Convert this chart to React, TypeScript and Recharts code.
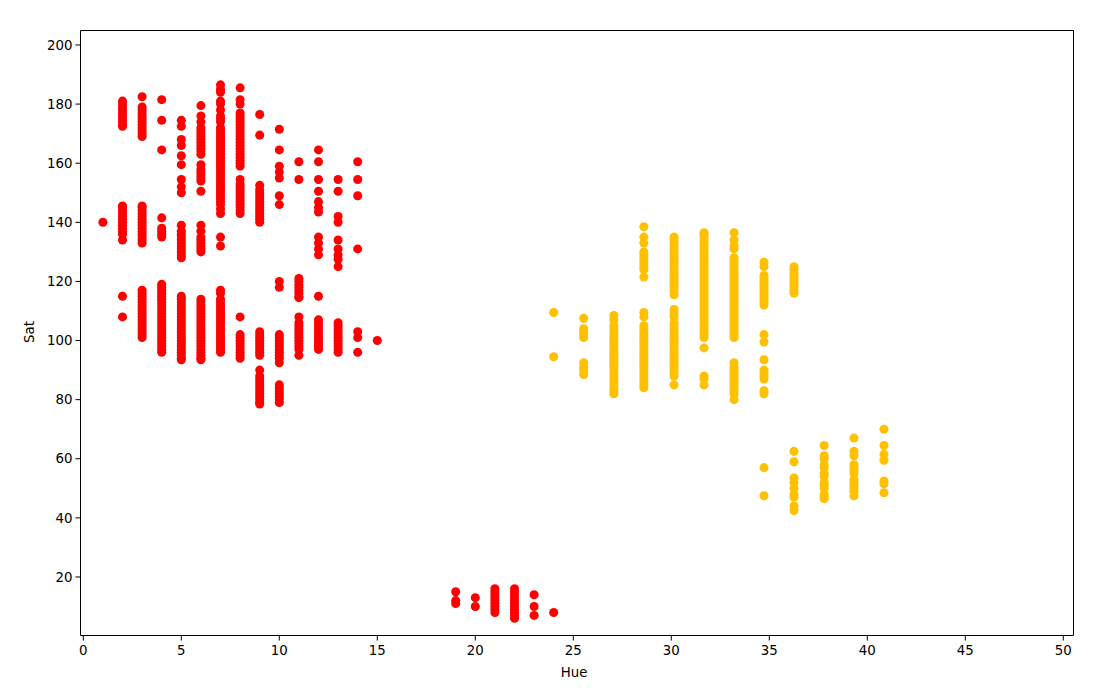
import React from 'react';
import { ScatterChart, Scatter, XAxis, YAxis, ZAxis, ReferenceLine } from 'recharts';

const redColumns: [number, number[]][] = [
  [1, [140]],
  [2, [181, 180, 179, 178, 177, 176, 175, 174, 173, 172.5, 145.5, 145, 144, 143, 142, 141, 140, 139, 138, 137, 136, 134, 115, 108]],
  [3, [182.5, 179, 178, 177, 176, 175, 174, 173, 172, 171, 170, 169, 145.5, 145, 144, 143, 142, 141, 140, 139, 138, 137, 136, 135, 134, 133, 117, 116, 115, 114, 113, 112, 111, 110, 109, 108, 107, 106, 105, 104, 103, 102, 101]],
  [4, [181.5, 174.5, 164.5, 141.5, 138, 137, 136, 135, 119, 118, 117, 116, 115, 114, 113, 112, 111, 110, 109, 108, 107, 106, 105, 104, 103, 102, 101, 100, 99, 98, 97, 96]],
  [5, [174.5, 172.5, 168, 166, 162.5, 159.5, 154.5, 152, 150, 139, 137, 136, 135, 134, 133, 132, 131, 130, 129, 128, 115, 114, 113, 112, 111, 110, 109, 108, 107, 106, 105, 104, 103, 102, 101, 100, 99, 98, 97, 96, 95, 94, 93.5]],
  [6, [179.5, 176, 174, 172, 171, 170, 169, 168, 167, 166, 165, 164, 163, 159.5, 158, 157, 156, 155, 154, 150.5, 139, 137, 135, 134, 133, 132, 131, 130, 114, 113, 112, 111, 110, 109, 108, 107, 106, 105, 104, 103, 102, 101, 100, 99, 98, 97, 96, 95, 94, 93.5]],
  [7, [186.5, 185, 184, 181, 180, 178, 176, 175, 174, 172, 171, 170, 169, 168, 167, 166, 165, 164, 163, 162, 161, 160, 159, 158, 157, 156, 155, 154, 153, 152, 151, 150, 149, 148, 147, 146, 144.5, 143, 135, 132, 117, 116, 114, 113, 112, 111, 110, 109, 108, 107, 106, 105, 104, 103, 102, 101, 100, 99, 98, 97, 96]],
  [8, [185.5, 181.5, 180, 177, 176, 175, 174, 173, 172, 171, 170, 169, 168, 167, 166, 165, 164, 163, 162, 161, 160, 159, 154.5, 153, 152, 151, 150, 149, 148, 147, 146, 145, 144, 143, 108, 102, 101, 100, 99, 98, 97, 96, 95, 94]],
  [9, [176.5, 169.5, 152.5, 151, 150, 149, 148, 147, 146, 145, 144, 143, 142, 141, 140, 103, 102, 101, 100, 99, 98, 97, 96, 95, 90, 88, 87, 86, 85, 84, 83, 82, 81, 80, 79, 78.5]],
  [10, [171.5, 164.5, 159, 157, 155, 149, 146, 120, 118, 102, 101, 100, 99, 98, 97, 96, 95, 94, 92.5, 85, 84, 83, 82, 81, 80, 79]],
  [11, [160.5, 154.5, 121, 120, 119, 118, 117, 116, 115, 114.5, 108, 106, 105, 104, 103, 102, 101, 100, 99, 98, 97, 95]],
  [12, [164.5, 160.5, 154.5, 150.5, 147, 145, 143.5, 135, 133, 131, 129, 115, 107, 106, 105, 104, 103, 102, 101, 100, 99, 98, 97]],
  [13, [154.5, 150.5, 142, 140, 134, 131, 129, 127.5, 125, 106, 105, 104, 103, 102, 101, 100, 99, 98, 97, 96]],
  [14, [160.5, 154.5, 149, 131, 103, 101, 96]],
  [15, [100]],
  [19, [15, 12, 11]],
  [20, [13, 10]],
  [21, [16, 15, 14, 13, 12, 11, 10, 9, 8]],
  [22, [16, 15, 14, 13, 12, 11, 10, 9, 8, 7, 6]],
  [23, [14, 10, 7]],
  [24, [8]],
];

const yellowColumns: [number, number[]][] = [
  [24, [109.5, 94.5]],
  [25.53, [107.5, 104, 103, 102, 101, 92.5, 91, 90, 88.5]],
  [27.07, [108.5, 107, 105, 104, 103, 102, 101, 100, 99, 98, 97, 96, 95, 94, 93, 92, 91, 90, 89, 88, 87, 86, 85, 84, 83, 82]],
  [28.6, [138.5, 135, 133, 130, 129, 128, 127, 126, 125, 124, 121.5, 109.5, 108, 105, 104, 103, 102, 101, 100, 99, 98, 97, 96, 95, 94, 93, 92, 91, 90, 89, 88, 87, 86, 85, 84]],
  [30.14, [135, 134, 133, 132, 131, 130, 129, 128, 127, 126, 125, 124, 123, 122, 121, 120, 119, 118, 117, 115.5, 110.5, 109, 108, 106, 105, 104, 103, 102, 101, 100, 99, 98, 97, 96, 95, 94, 93, 92, 91, 90, 89, 88, 85]],
  [31.67, [136.5, 136, 135, 134, 133, 132, 131, 130, 129, 128, 127, 126, 125, 124, 123, 122, 121, 120, 119, 118, 117, 116, 115, 114, 113, 112, 111, 110, 109, 108, 107, 106, 105, 104, 103, 102, 101, 97.5, 88, 87, 85]],
  [33.2, [136.5, 134, 132, 131, 128, 127, 126, 125, 124, 123, 122, 121, 120, 119, 118, 117, 116, 115, 114, 113, 112, 111, 110, 109, 108, 107, 106, 105, 104, 103, 102, 101, 92.5, 91, 90, 89, 88, 87, 86, 85, 84, 83, 82, 80]],
  [34.73, [126.5, 125, 122, 121, 120, 119, 118, 117, 116, 115, 114, 113, 112, 102, 99.5, 93.5, 90, 89, 88, 87, 83, 82, 57, 47.5]],
  [36.26, [125, 124, 123, 122, 121, 120, 119, 118, 117, 116, 62.5, 59, 53.5, 52, 50, 48, 47, 44, 42.5]],
  [37.8, [64.5, 61, 60, 58, 57, 55, 54, 52, 51, 50, 48, 47, 46.5]],
  [39.32, [67, 62.5, 61, 58, 57, 56, 55, 53, 52, 51, 50, 49, 47.5]],
  [40.85, [70, 64.5, 61.5, 59.5, 52.5, 51.5, 48.5]],
];

const xTicks = [0, 5, 10, 15, 20, 25, 30, 35, 40, 45, 50];
const yTicks = [20, 40, 60, 80, 100, 120, 140, 160, 180, 200];
const xDomain: [number, number] = [-0.143, 50.52];
const yDomain: [number, number] = [0.2, 204.9];

const toPoints = (cols: [number, number[]][]) =>
  cols.flatMap(([hue, sats]) => sats.map((sat) => ({ hue, sat })));

const tickStyle = { fontSize: 13.33, fill: '#000', fontFamily: 'DejaVu Sans' };
const labelStyle = { fontSize: 13.33, fill: '#000', fontFamily: 'DejaVu Sans' };

export default function App() {
  return (
    <div style={{ margin: '-8px 0 0 -8px', width: 1099, height: 688, background: '#fff' }}>
      <ScatterChart width={1099} height={688} margin={{ top: 30.5, right: 25.5, bottom: 0, left: 0 }}>
        <XAxis
          type="number"
          dataKey="hue"
          domain={xDomain}
          ticks={xTicks}
          allowDataOverflow
          height={52.5}
          tickSize={5}
          tickMargin={5}
          stroke="#000"
          tick={tickStyle}
          interval={0}
          label={{ value: 'Hue', position: 'insideBottom', offset: 11, style: labelStyle, dx: -3 }}
        />
        <YAxis
          type="number"
          dataKey="sat"
          domain={yDomain}
          ticks={yTicks}
          allowDataOverflow
          width={80.5}
          tickSize={5}
          tickMargin={3}
          stroke="#000"
          tick={tickStyle}
          interval={0}
          label={{ value: 'Sat', angle: -90, position: 'insideLeft', offset: 29, style: labelStyle, dy: 10 }}
        />
        <ZAxis range={[100, 100]} />
        <ReferenceLine y={yDomain[1]} stroke="#000" />
        <ReferenceLine x={xDomain[1]} stroke="#000" />
        <Scatter data={toPoints(redColumns)} fill="#ff0000" isAnimationActive={false} />
        <Scatter data={toPoints(yellowColumns)} fill="#ffc000" isAnimationActive={false} />
      </ScatterChart>
    </div>
  );
}
